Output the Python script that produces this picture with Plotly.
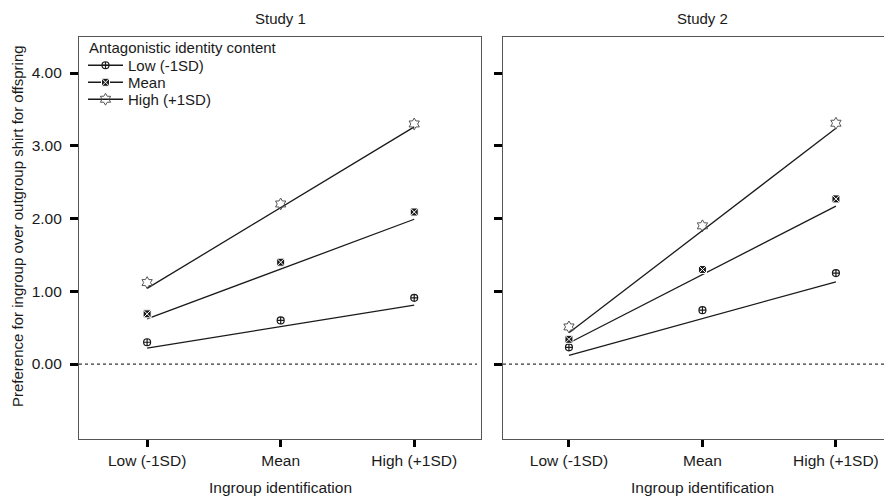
import plotly.graph_objects as go

# ---- data ----
levels = ["Low (-1SD)", "Mean", "High (+1SD)"]
moderator_names = ["Low (-1SD)", "Mean", "High (+1SD)"]
yticks = [0, 1, 2, 3, 4]
ytick_labels = ["0.00", "1.00", "2.00", "3.00", "4.00"]

# Study 1 observed means
s1_low = [0.30, 0.60, 0.91]
s1_mean = [0.69, 1.40, 2.09]
s1_high = [1.12, 2.20, 3.30]
# Study 1 fitted lines
s1_low_fit = [0.22, 0.515, 0.81]
s1_mean_fit = [0.62, 1.305, 1.99]
s1_high_fit = [1.04, 2.15, 3.26]

# Study 2 observed means
s2_low = [0.23, 0.74, 1.25]
s2_mean = [0.34, 1.30, 2.27]
s2_high = [0.51, 1.90, 3.31]
# Study 2 fitted lines
s2_low_fit = [0.12, 0.625, 1.13]
s2_mean_fit = [0.29, 1.23, 2.17]
s2_high_fit = [0.43, 1.835, 3.24]

FONT = "Liberation Sans, Arial, sans-serif"
INK = "#1a1a1a"
W, H = 884, 491  # page body adds an 8px margin


def px_x(v):
    return v / W


def px_y(v):
    return (H - v) / H


styles = [
    dict(symbol="circle-cross-open", size=7, color=INK, line=dict(width=1.2, color=INK)),
    dict(symbol="square-x", size=8, color=INK, line=dict(width=1, color="white")),
    dict(symbol="hexagram-open", size=9, color="#555", line=dict(width=1, color="#555")),
]

fig = go.Figure()

studies = [
    ("x", "y", [s1_low, s1_mean, s1_high], [s1_low_fit, s1_mean_fit, s1_high_fit]),
    ("x2", "y2", [s2_low, s2_mean, s2_high], [s2_low_fit, s2_mean_fit, s2_high_fit]),
]
for xa, ya, obs, fits in studies:
    for fit in fits:
        fig.add_trace(go.Scatter(x=[levels[0], levels[-1]], y=[fit[0], fit[-1]], mode="lines",
                                 line=dict(color=INK, width=1.3), xaxis=xa, yaxis=ya,
                                 showlegend=False, hoverinfo="skip"))
    for vals, st in zip(obs, styles):
        fig.add_trace(go.Scatter(x=levels, y=vals, mode="markers", marker=st,
                                 xaxis=xa, yaxis=ya, showlegend=False))

# legend-only entries, each in its own legend box for tight spacing
legend_ids = ["legend", "legend2", "legend3"]
for name, st, lg in zip(moderator_names, styles, legend_ids):
    fig.add_trace(go.Scatter(x=[None], y=[None], mode="lines+markers", name=name,
                             marker=st, line=dict(color=INK, width=1.3),
                             xaxis="x", yaxis="y", legend=lg))

yr = [-1.03, 4.495]
ydom = [px_y(431), px_y(29)]
common_x = dict(type="category", categoryorder="array", categoryarray=levels,
                showgrid=False, zeroline=False, showline=True, linecolor="#555", linewidth=1.2,
                ticks="outside", ticklen=7, tickwidth=2.5, tickcolor="black",
                tickfont=dict(size=15.5, color=INK, family=FONT))
common_y = dict(range=yr, domain=ydom, tickvals=yticks, ticktext=ytick_labels,
                showgrid=False, zeroline=False, showline=True, linecolor="#555", linewidth=1.2,
                ticks="outside", ticklen=8, tickwidth=2.5, tickcolor="black",
                tickfont=dict(size=15.5, color=INK, family=FONT))

leg_common = dict(xanchor="left", yanchor="top", bgcolor="rgba(0,0,0,0)",
                  font=dict(size=15, color=INK, family=FONT), itemwidth=35,
                  x=px_x(75))

tf = dict(size=15, color=INK, family=FONT)
fig.update_layout(
    width=W, height=H,
    margin=dict(l=0, r=0, t=0, b=0),
    paper_bgcolor="white", plot_bgcolor="white",
    font=dict(family=FONT, color=INK),
    xaxis=dict(common_x, domain=[px_x(71), px_x(473)], range=[-0.51, 2.5], mirror=True, anchor="y"),
    xaxis2=dict(common_x, domain=[px_x(495), 1.0], range=[-0.494, 2.42], mirror=True, anchor="y2"),
    yaxis=dict(common_y, mirror=True, anchor="x", ticklabelstandoff=5),
    yaxis2=dict(common_y, mirror=False, anchor="x2", showticklabels=False),
    showlegend=True,
    legend=dict(leg_common, y=px_y(41)),
    legend2=dict(leg_common, y=px_y(58)),
    legend3=dict(leg_common, y=px_y(75)),
    annotations=[
        dict(text="Study 1", x=0.5, xref="x domain", y=1.0, yref="paper",
             showarrow=False, font=tf, yanchor="top"),
        dict(text="Study 2", x=(694 - 495) / 389, xref="x2 domain", y=1.0, yref="paper",
             showarrow=False, font=tf, yanchor="top"),
        dict(text="Ingroup identification", x=0.5, xref="x domain", y=px_y(479), yref="paper",
             showarrow=False, font=dict(tf, size=15.5), yanchor="middle"),
        dict(text="Ingroup identification", x=(694 - 495) / 389, xref="x2 domain", y=px_y(479),
             yref="paper", showarrow=False, font=dict(tf, size=15.5), yanchor="middle"),
        dict(text="Preference for ingroup over outgroup shirt for offspring", textangle=-90,
             x=px_x(9), xref="paper", y=px_y(218), yref="paper", showarrow=False,
             font=dict(tf, size=15), xanchor="center", yanchor="middle"),
        dict(text="Antagonistic identity content", x=px_x(79), xref="paper", y=px_y(40),
             yref="paper", showarrow=False, font=tf, xanchor="left", yanchor="middle"),
    ],
    shapes=[
        dict(type="line", xref="x domain", yref="y", x0=0.0, x1=0.99, y0=0, y1=0,
             line=dict(color="#333", width=1.2, dash="dot")),
        dict(type="line", xref="x2 domain", yref="y2", x0=0.0, x1=1.0, y0=0, y1=0,
             line=dict(color="#333", width=1.2, dash="dot")),
    ],
)

fig.write_html("out.html")
